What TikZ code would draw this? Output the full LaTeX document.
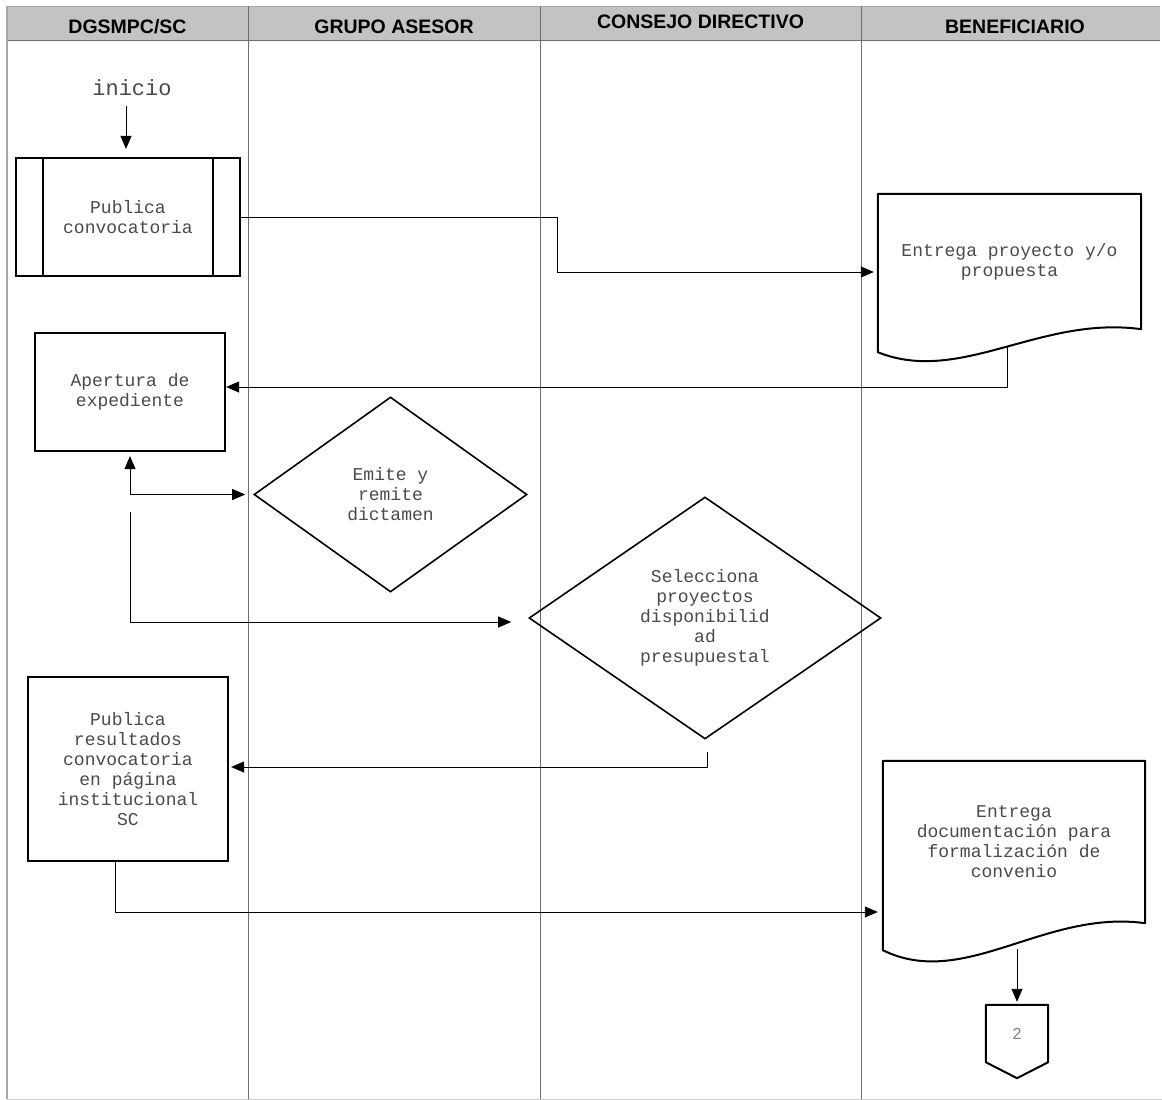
\documentclass[tikz,border=0pt]{standalone}
\usepackage{fontspec}
\setmainfont{Liberation Mono}
\newfontfamily\hdrfont{Liberation Sans}
\usetikzlibrary{arrows.meta,shapes.geometric,calc}
\definecolor{txtgray}{HTML}{4A4A4A}
\definecolor{hdrfill}{HTML}{C3C3C3}
\definecolor{lanegray}{HTML}{6E6E6E}
\definecolor{bordergray}{HTML}{A8A8A8}
\begin{document}
\begin{tikzpicture}[x=1pt,y=-1pt,
  body/.style={font=\fontsize{18}{20}\selectfont, text=txtgray, align=center, inner sep=0pt},
  procbox/.style={body, draw, rectangle, line width=2.2pt},
  dia/.style={body, draw, diamond, line width=1.6pt},
  docbox/.style={body, rectangle, draw=none},
  docline/.style={line width=2pt, line join=round},
  arr/.style={-{Triangle[length=13pt,width=11pt]}, line width=0.9pt},
  dblarr/.style={{Triangle[length=13pt,width=11pt]}-{Triangle[length=13pt,width=11pt]}, line width=0.9pt},
  hdr/.style={font=\hdrfont\bfseries\fontsize{19.5}{20}\selectfont, inner sep=0pt}]
\useasboundingbox (0,0) rectangle (1162,1100);
% header and lanes
\fill[hdrfill] (7,6) rectangle (1160,40);
\draw[bordergray, line width=1pt] (7,6) -- (1160,6);
\draw[lanegray, line width=1pt] (7,40) -- (1160,40);
\foreach \lx in {248,540,861} { \draw[lanegray, line width=1pt] (\lx,6) -- (\lx,1099); }
\draw[bordergray, line width=2pt] (7,6) -- (7,1099);
\draw[bordergray!60, line width=1pt] (7,1099) -- (1162,1099);
\node[hdr] (h1) at (127.5,27) {DGSMPC/SC};
\node[hdr] (h2) at (394,27) {GRUPO ASESOR};
\node[hdr] (h3) at (700.5,22) {CONSEJO DIRECTIVO};
\node[hdr] (h4) at (1015,27) {BENEFICIARIO};
% nodes
\node[body, font=\fontsize{22}{24}\selectfont] (ini) at (132,88) {inicio};
\node[procbox, minimum width=224pt, minimum height=118pt] (pc) at (128,217) {Publica\\convocatoria};
\draw[line width=2.2pt] ([xshift=28pt]pc.north west) -- ([xshift=28pt]pc.south west);
\draw[line width=2.2pt] ([xshift=-28pt]pc.north east) -- ([xshift=-28pt]pc.south east);
\node[docbox, minimum width=263pt, minimum height=135pt] (d1) at (1009.5,261.5) {Entrega proyecto y/o\\propuesta};
\draw[docline] (d1.south east) -- (d1.north east) -- (d1.north west) -- ($(d1.south west)+(0,23)$)
  .. controls ($(d1.south east)+(-181,56)$) and ($(d1.south east)+(-101,-14)$) .. (d1.south east) -- cycle;
\node[procbox, minimum width=190pt, minimum height=118pt] (ap) at (130,392) {Apertura de\\expediente};
\node[dia, minimum width=273pt, minimum height=195pt] (em) at (390.5,494.5) {Emite y\\remite\\dictamen};
\node[dia, minimum width=352pt, minimum height=242pt] (se) at (705,618) {Selecciona\\proyectos\\disponibilid\\ad\\presupuestal};
\node[procbox, minimum width=200pt, minimum height=184pt] (pr) at (128,769) {Publica\\resultados\\convocatoria\\en página\\institucional\\SC};
\node[docbox, minimum width=262pt, minimum height=162pt] (d2) at (1014,842) {Entrega\\documentación para\\formalización de\\convenio};
\draw[docline] (d2.south east) -- (d2.north east) -- (d2.north west) -- ($(d2.south west)+(0,27)$)
  .. controls ($(d2.south east)+(-181,67)$) and ($(d2.south east)+(-101,-14)$) .. (d2.south east) -- cycle;
\node[body, font=\hdrfont\fontsize{16}{18}\selectfont, text=gray, minimum width=62pt, minimum height=57pt] (off) at (1017,1033.5) {2};
\draw[docline] (off.north west) -- (off.north east) -- (off.south east) -- ($(off.south)+(0,16)$) -- (off.south west) -- cycle;
% connectors
\coordinate (pctop) at ([xshift=-2pt]pc.north);
\draw[arr, shorten <=10pt, shorten >=8pt] (pctop |- ini.south) -- (pctop);
\draw[arr, shorten >=4pt] (pc.east) -- ++(316,0) |- ([yshift=-10.5pt]d1.west);
\draw[arr] ($(d1.south)+(-2,17)$) |- ([yshift=5pt]ap.east);
\draw[dblarr] ([yshift=-4pt]ap.south) |- ([xshift=-8pt]em.west);
\coordinate (s2) at (130,512);
\draw[arr] (s2) |- ([xshift=-17pt,yshift=-4pt]se.west);
\draw[arr] ([xshift=2pt,yshift=-12pt]se.south) |- ([xshift=2pt,yshift=2pt]pr.east);
\draw[arr] ([xshift=-13pt]pr.south) |- ([xshift=-5pt,yshift=-70pt]d2.west);
\draw[arr] ($(d2.south)+(3,26)$) -- ([yshift=3pt]off.north);
\end{tikzpicture}
\end{document}
